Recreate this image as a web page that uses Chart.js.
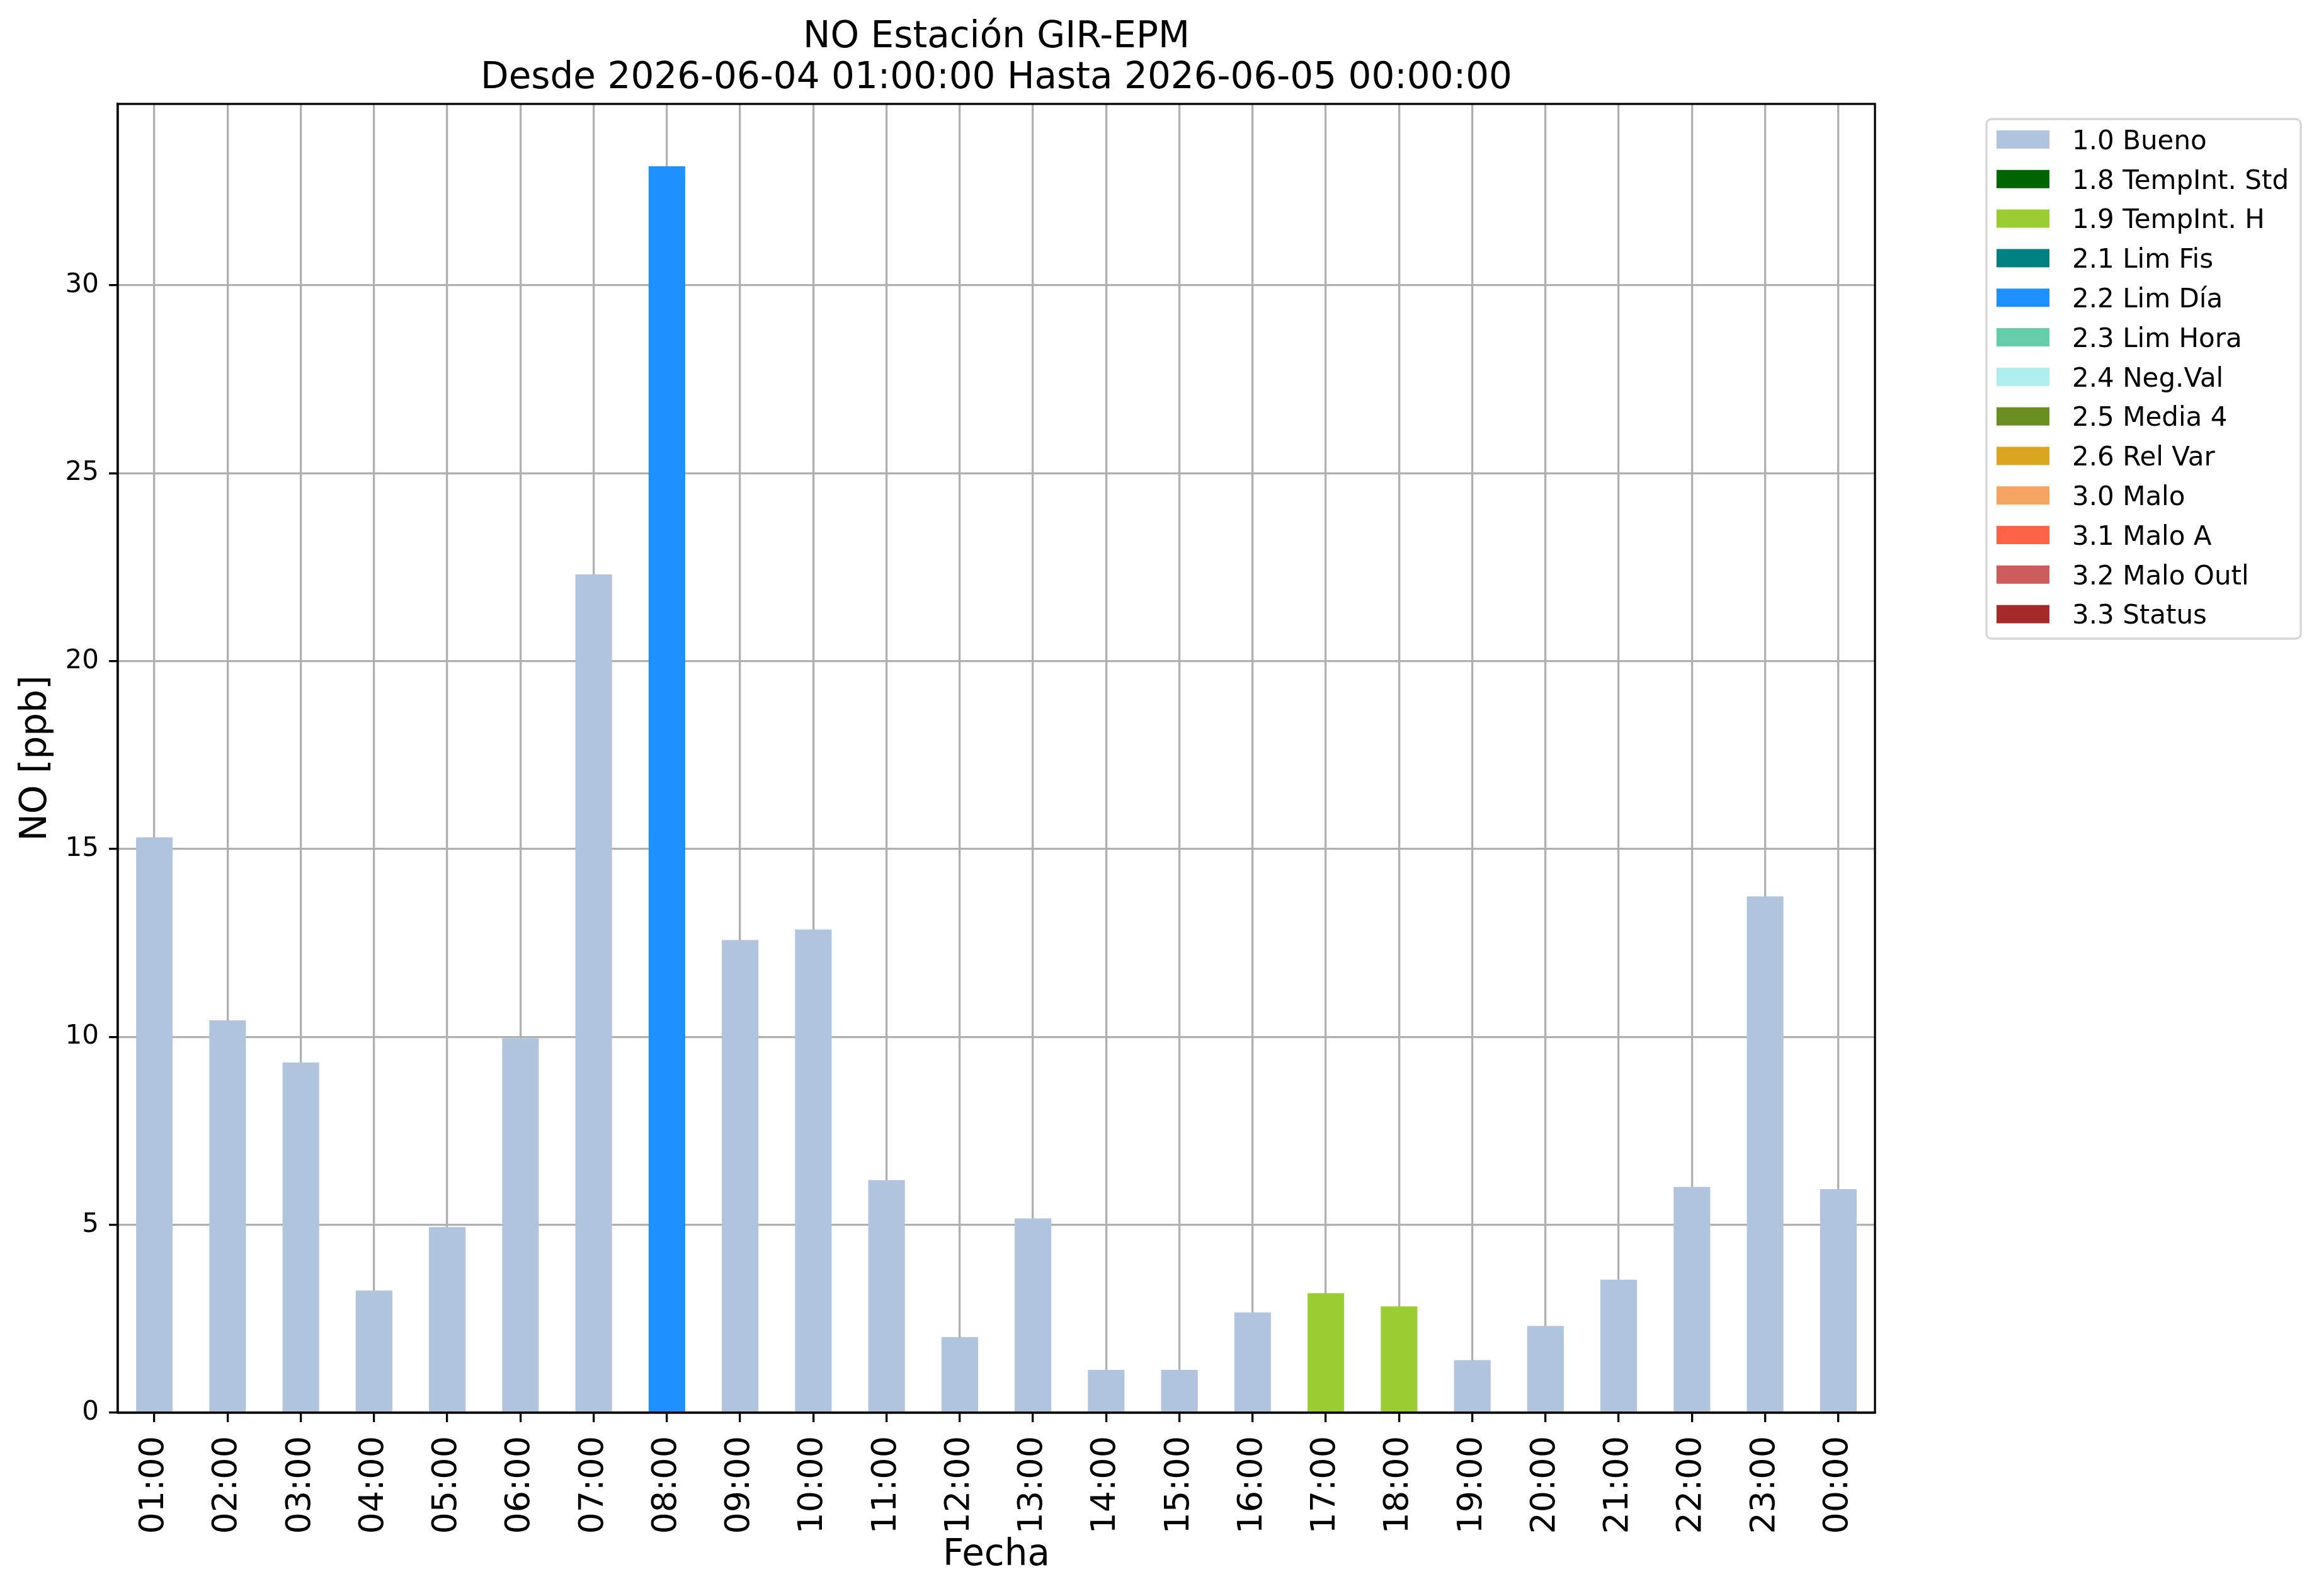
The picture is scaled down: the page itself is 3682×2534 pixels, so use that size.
<!DOCTYPE html>
<html><head><meta charset="utf-8">
<script src="https://cdn.jsdelivr.net/npm/chart.js@4.4.1/dist/chart.umd.min.js"></script>
<style>html,body{margin:0;padding:0;background:#fff}canvas{display:block}</style>
</head><body>
<canvas id="c" width="3682" height="2534"></canvas>
<script>
// ---- data ----
const categories = ['01:00','02:00','03:00','04:00','05:00','06:00','07:00','08:00','09:00','10:00','11:00','12:00',
  '13:00','14:00','15:00','16:00','17:00','18:00','19:00','20:00','21:00','22:00','23:00','00:00'];
const values = [15.31,10.44,9.32,3.25,4.94,9.97,22.31,33.17,12.58,12.86,6.19,2.01,
  5.17,1.14,1.14,2.67,3.18,2.83,1.40,2.31,3.54,6.01,13.74,5.95];
const hourStatus = ['1.0','1.0','1.0','1.0','1.0','1.0','1.0','2.2','1.0','1.0','1.0','1.0',
  '1.0','1.0','1.0','1.0','1.9','1.9','1.0','1.0','1.0','1.0','1.0','1.0'];
const statusCodes = ['1.0','1.8','1.9','2.1','2.2','2.3','2.4','2.5','2.6','3.0','3.1','3.2','3.3'];
const statusNames = ['Bueno','TempInt. Std','TempInt. H','Lim Fis','Lim Día','Lim Hora','Neg.Val','Media 4','Rel Var','Malo','Malo A','Malo Outl','Status'];
const statusColors = ['#B0C4DE','#006400','#9ACD32','#008080','#1E90FF','#66CDAA','#AFEEEE','#6B8E23','#DAA520','#F4A460','#FF6347','#CD5C5C','#A52A2A'];
const titleLines = ['NO Estación GIR-EPM','Desde 2026-06-04 01:00:00 Hasta 2026-06-05 00:00:00'];
const yTitle = 'NO [ppb]';
const xTitle = 'Fecha';
const yStep = 5;

// ---- build datasets ----
const datasets = statusCodes.map((code, i) => ({
  label: code + ' ' + statusNames[i],
  data: values.map((v, j) => hourStatus[j] === code ? v : null),
  backgroundColor: statusColors[i],
  borderWidth: 0,
  barPercentage: 0.5,
  categoryPercentage: 1.0
}));
const yMax = Math.max(...values) * 1.05;

Chart.defaults.font.family = "'DejaVu Sans'";
Chart.defaults.color = '#000';

const LW = 3.3;

const framePlugin = {
  id: 'frame',
  afterDraw(chart) {
    const {ctx, chartArea: a} = chart;
    ctx.save();
    // spines
    ctx.strokeStyle = '#000';
    ctx.lineWidth = LW;
    ctx.strokeRect(a.left, a.top, a.right - a.left, a.bottom - a.top);
    // title
    ctx.fillStyle = '#000';
    ctx.font = "58px 'DejaVu Sans'";
    ctx.textAlign = 'center';
    ctx.textBaseline = 'alphabetic';
    const cx = (a.left + a.right) / 2;
    ctx.fillText(titleLines[0], cx, a.top - 90);
    ctx.fillText(titleLines[1], cx, a.top - 25);
    // legend
    const lx = a.right + 177, ly = a.top + 24, lw = 499, lh = 825;
    ctx.beginPath();
    ctx.roundRect(lx, ly, lw, lh, 8);
    ctx.fillStyle = 'rgba(255,255,255,0.8)';
    ctx.fill();
    ctx.strokeStyle = '#d6d6d6';
    ctx.lineWidth = LW;
    ctx.stroke();
    ctx.font = "42px 'DejaVu Sans'";
    ctx.textAlign = 'left';
    chart.data.datasets.forEach((ds, i) => {
      const cy = ly + 32.5 + i * 62.8;
      ctx.fillStyle = ds.backgroundColor;
      ctx.fillRect(lx + 16, cy - 14.5, 84, 29);
      ctx.fillStyle = '#000';
      ctx.fillText(ds.label, lx + 136, cy + 15.3);
    });
    ctx.restore();
  }
};

new Chart(document.getElementById('c'), {
  type: 'bar',
  data: { labels: categories, datasets },
  options: {
    responsive: false,
    devicePixelRatio: 1,
    animation: false,
    layout: { padding: { top: 165, right: 705, left: 0, bottom: 0 } },
    plugins: { legend: { display: false }, title: { display: false }, tooltip: { enabled: false } },
    scales: {
      x: {
        stacked: true,
        offset: true,
        z: 1,
        afterFit(s) { s.height = 291; },
        grid: { offset: false, color: '#b0b0b0', lineWidth: LW, tickLength: 15, tickColor: '#000', tickWidth: LW, drawTicks: true },
        border: { display: true, color: '#000', width: LW },
        ticks: { autoSkip: false, minRotation: 90, maxRotation: 90, padding: 22, font: { size: 54 }, color: '#000' },
        title: { display: true, text: xTitle, font: { size: 58, lineHeight: 1 }, padding: { top: 0, bottom: 35 }, color: '#000' }
      },
      y: {
        stacked: true,
        min: 0,
        max: yMax,
        z: 1,
        afterFit(s) { s.width = 187; },
        grid: { color: '#b0b0b0', lineWidth: LW, tickLength: 14, tickColor: '#000', tickWidth: LW },
        border: { display: true, color: '#000', width: LW },
        ticks: { stepSize: yStep, includeBounds: false, padding: 16, font: { size: 42 }, color: '#000' },
        title: { display: true, text: yTitle, font: { size: 58, lineHeight: 1 }, padding: { top: 29, bottom: 0 }, color: '#000' }
      }
    }
  },
  plugins: [framePlugin]
});
</script>
</body></html>
